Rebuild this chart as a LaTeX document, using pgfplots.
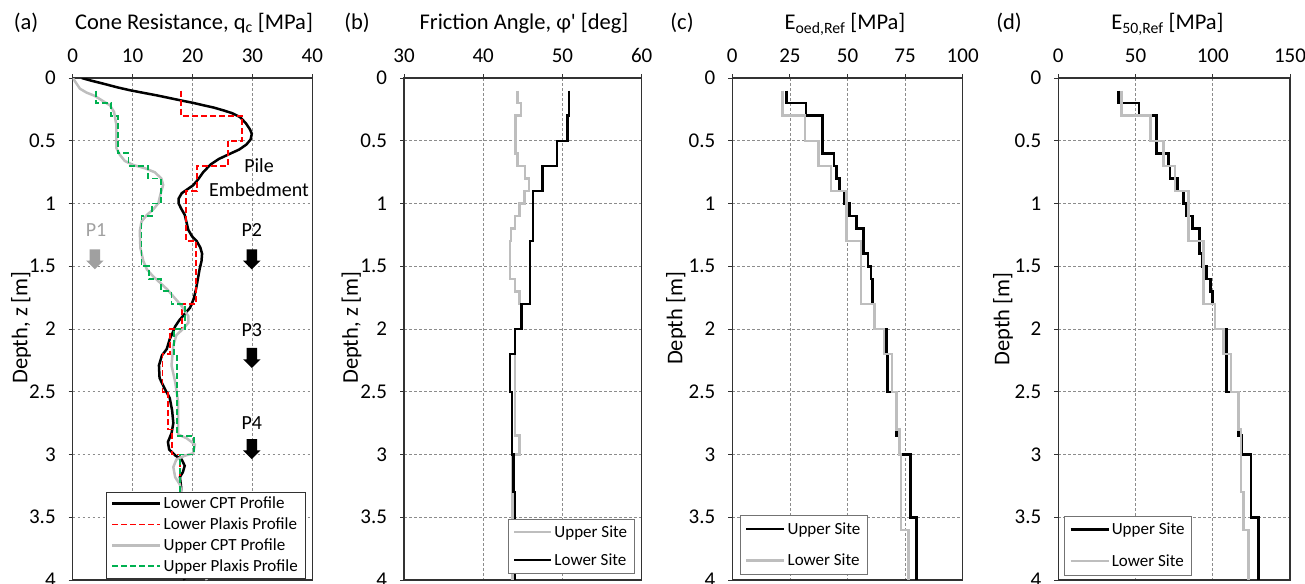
\documentclass[border=0pt]{standalone}
\usepackage{pgfplots}
\pgfplotsset{compat=1.18}
\usepackage{fontspec}
\setmainfont{Carlito}
\usetikzlibrary{shapes.arrows}
\definecolor{cgray}{RGB}{190,190,190}
\definecolor{cgreen}{RGB}{0,176,80}
\definecolor{cred}{RGB}{255,0,0}
\definecolor{frame}{RGB}{50,50,50}
\definecolor{pgray}{RGB}{160,160,160}

\tikzset{
  blk/.style={black, line width=2.5pt},
  gry/.style={cgray, line width=2.5pt},
  rdash/.style={cred, line width=1.8pt, dash pattern=on 6pt off 3pt},
  gdash/.style={cgreen, line width=1.8pt, dash pattern=on 6pt off 3pt},
  parrow/.style={single arrow, shape border rotate=270, minimum height=20pt, inner sep=5pt, single arrow head extend=3.5pt},
}
\pgfplotsset{
  panel/.style={
    scale only axis, height=502pt, y dir=reverse, ymin=0, ymax=4,
    ytick={0,0.5,1,1.5,2,2.5,3,3.5,4},
    xtick pos=right, xticklabel pos=right, ytick pos=left,
    tick align=outside, major tick length=4pt,
    axis line style={frame, line width=1.2pt},
    tick style={frame, line width=1pt},
    grid=major, major grid style={black!45, line width=0.6pt, dash pattern=on 2.5pt off 2.5pt},
    /pgf/number format/assume math mode=true,
    ticklabel style={font=\fontsize{21}{21}\selectfont},
    xticklabel style={yshift=8pt},
    yticklabel style={xshift=-9.5pt},
    legend cell align=left,
  },
}
\newcommand{\lfont}{\fontsize{17}{20}\selectfont}
\newcommand{\tfont}{\fontsize{22.5}{26}\selectfont}
\newcommand{\afont}{\fontsize{20}{24}\selectfont}

\begin{document}
\begin{tikzpicture}

% ---------------- (a) ----------------
\begin{axis}[panel, at={(72.7pt,3pt)}, anchor=south west, width=239.6pt,
  xmin=0, xmax=40, xtick={0,10,20,30,40},
  legend image code/.code={\draw[#1] (0pt,0pt) -- (48pt,0pt);},
  legend style={at={(0.9695,0.004)}, anchor=south east, font=\lfont,
    draw=frame, row sep=3.5pt, inner xsep=5pt, inner ysep=3pt}]
\addplot[blk] coordinates {(1.5,0.0) (3.0,0.02) (5.1,0.045) (7.5,0.075) (9.6,0.098) (12,0.12) (14.0,0.138) (16,0.158) (17.9,0.177) (20,0.197) (21.8,0.217) (23.5,0.235) (25.1,0.257) (26.6,0.28) (27.9,0.31) (28.9,0.36) (29.6,0.41) (29.9,0.445) (29.7,0.49) (29.0,0.53) (27.8,0.57) (26.2,0.605) (24.4,0.645) (23.0,0.69) (21.8,0.75) (20.9,0.81) (20.1,0.855) (19.2,0.885) (18.2,0.918) (17.7,0.96) (17.7,1.0) (18.1,1.04) (18.7,1.09) (19.0,1.15) (19.3,1.21) (19.9,1.26) (20.7,1.30) (21.3,1.35) (21.6,1.40) (21.5,1.46) (21.2,1.52) (20.9,1.60) (20.6,1.68) (20.2,1.76) (19.6,1.83) (18.7,1.88) (17.8,1.93) (17.1,1.98) (16.6,2.04) (16.2,2.08) (15.7,2.16) (14.9,2.21) (14.4,2.29) (14.5,2.39) (15.3,2.47) (16.2,2.55) (16.6,2.65) (16.8,2.75) (16.5,2.83) (15.9,2.90) (16.1,2.96) (17.2,3.01) (18.2,3.04) (18.7,3.09) (18.4,3.14) (17.9,3.18) (18.1,3.26) (18.0,3.4) (17.7,3.6) (17.4,3.8) (17.4,3.9) (18.2,3.96) (18.7,4.0)};
\addlegendentry{Lower CPT Profile}
\addplot[rdash] coordinates {(18.1,0.1) (18.1,0.3) (28.3,0.3) (28.3,0.5) (25.9,0.5) (25.9,0.7) (20.7,0.7) (20.7,0.9) (18.9,0.9) (18.9,1.3) (20.6,1.3) (20.6,1.8) (18.2,1.8) (18.2,2.0) (16.2,2.0) (16.2,2.2) (15.0,2.2) (15.0,2.5) (15.9,2.5) (15.9,2.8) (16.6,2.8) (16.6,3.0) (17.9,3.0) (17.9,3.9) (19.0,3.9) (19.0,4.0)};
\addlegendentry{Lower Plaxis Profile}
\addplot[gry] coordinates {(0.0,0.0) (0.3,0.02) (1.2,0.085) (2.3,0.116) (3.7,0.143) (5.1,0.185) (6.2,0.217) (6.9,0.27) (7.3,0.376) (7.3,0.56) (7.9,0.614) (8.7,0.661) (10.1,0.693) (12.1,0.72) (13.7,0.751) (14.8,0.80) (15.1,0.852) (14.7,0.918) (14.3,0.997) (13.4,1.05) (12.4,1.09) (11.5,1.143) (11.2,1.22) (11.3,1.354) (11.8,1.46) (12.4,1.526) (13.4,1.579) (14.6,1.632) (15.8,1.685) (16.9,1.746) (18.2,1.817) (19.3,1.897) (19.3,1.95) (18.6,1.99) (17.3,2.05) (16.8,2.13) (16.5,2.29) (17.1,2.42) (17.6,2.58) (17.6,2.84) (19.0,2.87) (20.4,2.92) (20.1,2.99) (18.7,3.01) (17.3,3.04) (16.8,3.1) (17.1,3.18) (17.9,3.24) (18.5,3.4) (19.5,3.6) (20.5,3.8) (21.5,3.9) (22.1,3.97) (22.4,4.0)};
\addlegendentry{Upper CPT Profile}
\addplot[gdash] coordinates {(3.9,0.1) (3.9,0.2) (6.4,0.2) (6.4,0.3) (7.5,0.3) (7.5,0.6) (9.3,0.6) (9.3,0.7) (12.6,0.7) (12.6,0.8) (14.7,0.8) (14.7,1.0) (13.2,1.0) (13.2,1.1) (11.5,1.1) (11.5,1.5) (12.7,1.5) (12.7,1.6) (14.8,1.6) (14.8,1.7) (16.5,1.7) (16.5,1.8) (18.7,1.8) (18.7,2.0) (16.9,2.0) (16.9,2.2) (17.4,2.2) (17.4,2.85) (20.2,2.85) (20.2,3.0) (17.9,3.0) (17.9,3.9) (21.4,3.9) (21.4,4.0)};
\addlegendentry{Upper Plaxis Profile}
\node[font=\afont, align=center] at (axis cs:31.1,0.79) {Pile\\[0pt]Embedment};
\node[font=\afont, text=pgray] at (axis cs:3.9,1.21) {P1};
\node[font=\afont] at (axis cs:29.9,1.21) {P2};
\node[font=\afont] at (axis cs:29.9,2.01) {P3};
\node[font=\afont] at (axis cs:29.9,2.75) {P4};
\node[parrow, fill=pgray] at (axis cs:3.7,1.424) {};
\node[parrow, fill=black] at (axis cs:29.9,1.424) {};
\node[parrow, fill=black] at (axis cs:29.9,2.21) {};
\node[parrow, fill=black] at (axis cs:29.9,2.936) {};
\end{axis}

% ---------------- (b) ----------------
\begin{axis}[panel, at={(404pt,3pt)}, anchor=south west, width=237.7pt,
  xmin=30, xmax=60, xtick={30,40,50,60},
  legend image code/.code={\draw[#1] (0pt,0pt) -- (37pt,0pt);},
  legend style={at={(0.969,0.014)}, anchor=south east, font=\lfont,
    draw=black!55, row sep=11pt, inner xsep=5pt, inner ysep=4pt}]
\addplot[gry] coordinates {(44.35,0.1) (44.35,0.2) (44.75,0.2) (44.75,0.3) (44.1,0.3) (44.1,0.6) (44.35,0.6) (44.35,0.7) (45.3,0.7) (45.3,0.8) (45.8,0.8) (45.8,0.9) (45.2,0.9) (45.2,1.0) (44.6,1.0) (44.6,1.1) (44.0,1.1) (44.0,1.2) (43.5,1.2) (43.5,1.3) (43.4,1.3) (43.4,1.6) (44.0,1.6) (44.0,1.7) (44.6,1.7) (44.6,1.8) (44.8,1.8) (44.8,2.0) (44.0,2.0) (44.0,2.85) (44.6,2.85) (44.6,3.0) (43.7,3.0) (43.7,4.0)};
\addlegendentry{Upper Site}
\addplot[blk] coordinates {(50.8,0.1) (50.8,0.3) (50.65,0.3) (50.65,0.5) (49.3,0.5) (49.3,0.7) (47.5,0.7) (47.5,0.9) (46.3,0.9) (46.3,1.3) (45.9,1.3) (45.9,1.8) (44.8,1.8) (44.8,2.0) (44.0,2.0) (44.0,2.2) (43.4,2.2) (43.4,2.5) (43.6,2.5) (43.6,3.0) (43.8,3.0) (43.8,3.3) (44.0,3.3) (44.0,4.0)};
\addlegendentry{Lower Site}
\end{axis}

% ---------------- (c) ----------------
\begin{axis}[panel, at={(732.3pt,3pt)}, anchor=south west, width=230.4pt,
  xmin=0, xmax=100, xtick={0,25,50,75,100},
  legend image code/.code={\draw[#1] (0pt,0pt) -- (38pt,0pt);},
  legend style={at={(0.033,0.011)}, anchor=south west, font=\lfont,
    draw=black!55, row sep=14.5pt, inner xsep=5pt, inner ysep=5pt}]
\addplot[blk] coordinates {(23.6,0.1) (23.6,0.2) (31.9,0.2) (31.9,0.3) (39.2,0.3) (39.2,0.6) (44.1,0.6) (44.1,0.7) (45.3,0.7) (45.3,0.8) (46.5,0.8) (46.5,0.9) (48.5,0.9) (48.5,1.0) (50.8,1.0) (50.8,1.1) (54.0,1.1) (54.0,1.2) (56.9,1.2) (56.9,1.4) (59.0,1.4) (59.0,1.5) (60.1,1.5) (60.1,1.6) (60.8,1.6) (60.8,1.8) (61.7,1.8) (61.7,2.0) (67.0,2.0) (67.0,2.2) (67.4,2.2) (67.4,2.5) (71.3,2.5) (71.3,2.85) (72.5,2.85) (72.5,3.0) (77.4,3.0) (77.4,3.5) (80.0,3.5) (80.0,4.0)};
\addlegendentry{Upper Site}
\addplot[gry] coordinates {(21.7,0.1) (21.7,0.3) (31.6,0.3) (31.6,0.5) (37.3,0.5) (37.3,0.7) (42.8,0.7) (42.8,0.9) (49.6,0.9) (49.6,1.3) (55.9,1.3) (55.9,1.8) (61.7,1.8) (61.7,2.0) (65.8,2.0) (65.8,2.2) (69.4,2.2) (69.4,2.5) (71.3,2.5) (71.3,2.8) (72.5,2.8) (72.5,3.0) (73.2,3.0) (73.2,3.6) (76.4,3.6) (76.4,4.0)};
\addlegendentry{Lower Site}
\end{axis}

% ---------------- (d) ----------------
\begin{axis}[panel, at={(1058.3pt,3pt)}, anchor=south west, width=231.7pt,
  xmin=0, xmax=150, xtick={0,50,100,150},
  legend image code/.code={\draw[#1] (0pt,0pt) -- (38pt,0pt);},
  legend style={at={(0.025,0.01)}, anchor=south west, font=\lfont,
    draw=black!55, row sep=14.5pt, inner xsep=5pt, inner ysep=5pt}]
\addplot[blk] coordinates {(38.9,0.1) (38.9,0.2) (52.2,0.2) (52.2,0.3) (63.7,0.3) (63.7,0.6) (71.2,0.6) (71.2,0.7) (72.3,0.7) (72.3,0.8) (77.3,0.8) (77.3,0.9) (80.9,0.9) (80.9,1.0) (83.1,1.0) (83.1,1.1) (86.8,1.1) (86.8,1.2) (91.3,1.2) (91.3,1.4) (93.2,1.4) (93.2,1.5) (96.0,1.5) (96.0,1.6) (98.6,1.6) (98.6,1.7) (99.9,1.7) (99.9,1.8) (101.4,1.8) (101.4,2.0) (109.0,2.0) (109.0,2.5) (116.6,2.5) (116.6,2.85) (118.7,2.85) (118.7,3.0) (124.8,3.0) (124.8,3.5) (129.5,3.5) (129.5,4.0)};
\addlegendentry{Upper Site}
\addplot[gry] coordinates {(41.0,0.1) (41.0,0.3) (59.8,0.3) (59.8,0.5) (68.0,0.5) (68.0,0.7) (75.5,0.7) (75.5,0.9) (84.2,0.9) (84.2,1.3) (93.9,1.3) (93.9,1.8) (101.4,1.8) (101.4,2.0) (106.8,2.0) (106.8,2.2) (111.8,2.2) (111.8,2.5) (116.6,2.5) (116.6,2.8) (118.3,2.8) (118.3,3.3) (119.8,3.3) (119.8,3.6) (123.0,3.6) (123.0,4.0)};
\addlegendentry{Lower Site}
\end{axis}

% ---------------- titles and labels ----------------
\node[anchor=base, font=\tfont] at (26pt,553.5pt) {(a)};
\node[anchor=base, font=\tfont] at (194pt,553.5pt) {Cone Resistance, q\textsubscript{c} [MPa]};
\node[anchor=base, font=\tfont] at (357pt,553.5pt) {(b)};
\node[anchor=base, font=\tfont] at (524pt,553.5pt) {Friction Angle, φ\textquotesingle{} [deg]};
\node[anchor=base, font=\tfont] at (682pt,553.5pt) {(c)};
\node[anchor=base, font=\tfont] at (845pt,553.5pt) {E\textsubscript{oed,Ref} [MPa]};
\node[anchor=base, font=\tfont] at (1009pt,553.5pt) {(d)};
\node[anchor=base, font=\tfont] at (1167.5pt,553.5pt) {E\textsubscript{50,Ref} [MPa]};
\node[rotate=90, font=\tfont] at (21pt,255.5pt) {Depth, z [m]};
\node[rotate=90, font=\tfont] at (351.5pt,255.5pt) {Depth, z [m]};
\node[rotate=90, font=\tfont] at (676pt,264.5pt) {Depth [m]};
\node[rotate=90, font=\tfont] at (1003pt,264pt) {Depth [m]};

\pgfresetboundingbox
\path[use as bounding box] (0,0) rectangle (1305pt,583pt);
\end{tikzpicture}
\end{document}
